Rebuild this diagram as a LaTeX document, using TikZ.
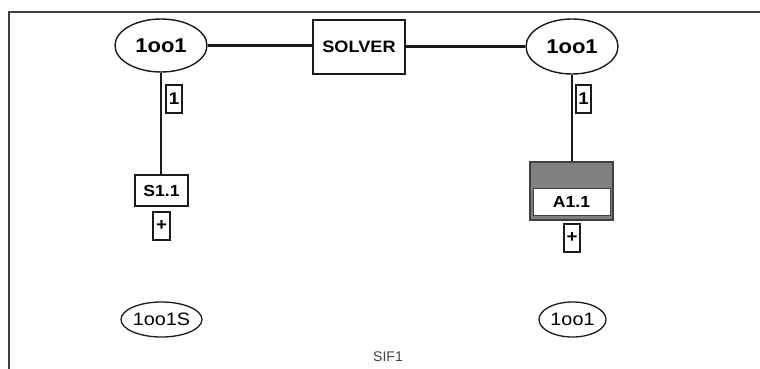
\documentclass[tikz,border=0pt]{standalone}
\usepackage{fontspec}
\setmainfont{Liberation Sans}
\newfontfamily\widesf[FakeStretch=1.1]{Liberation Sans}
\usetikzlibrary{shapes.geometric}
\definecolor{frm}{HTML}{404040}
\definecolor{blk}{HTML}{1A1A1A}
\definecolor{midgray}{HTML}{808080}
\tikzset{
  conn/.style={draw=blk, line width=2.2pt},
  bigell/.style={ellipse, draw=blk, line width=1.4pt, inner sep=0pt, fill=white,
     font=\widesf\fontsize{20}{23}\selectfont\bfseries},
  smallell/.style={ellipse, draw=blk, line width=1.3pt, inner sep=0pt, fill=white,
     font=\widesf\fontsize{18}{21}\selectfont},
  solverbox/.style={rectangle, draw=blk, line width=2.2pt, inner sep=0pt, fill=white,
     font=\widesf\fontsize{16.5}{19}\selectfont\bfseries},
  elembox/.style={rectangle, draw=blk, line width=1.3pt, inner sep=0pt, fill=white,
     font=\widesf\fontsize{16}{19}\selectfont\bfseries},
  tagbox/.style={rectangle, draw=blk, line width=1.1pt, inner sep=0pt, fill=white,
     font=\widesf\fontsize{17}{19}\selectfont\bfseries},
}
\begin{document}
\begin{tikzpicture}[x=1pt, y=-1pt]
\useasboundingbox (0,0) rectangle (760,369);
% frame
\draw[frm, line width=1.5pt] (9,369) -- (9,12) -- (760,12);
% top row
\node[bigell, minimum width=92pt, minimum height=53pt] (e1) at (161,45.5) {1oo1};
\node[solverbox, minimum width=92pt, minimum height=54pt] (solver) at (359,47) {SOLVER};
\node[bigell, minimum width=92pt, minimum height=55pt] (e2) at (572,46.5) {1oo1};
% left element
\node[elembox, minimum width=53pt, minimum height=31pt] (s11) at (161.5,190.5) {S1.1};
\node[tagbox, minimum width=16pt, minimum height=28pt] (lab1) at (174,99) {1};
\node[tagbox, minimum width=17pt, minimum height=28pt] (plus1) at (161.5,226) {+};
% right element
\node[rectangle, draw=frm, line width=2pt, fill=midgray, minimum width=83pt, minimum height=58pt, inner sep=0pt] (a11box) at (571.5,191) {};
\node[elembox, draw=frm, line width=1pt, minimum width=77pt, minimum height=27pt] (a11) at (571.5,201.5) {A1.1};
\node[tagbox, minimum width=15pt, minimum height=28pt] (lab2) at (583.5,99) {1};
\node[tagbox, minimum width=16pt, minimum height=28pt] (plus2) at (572,238) {+};
% bottom ellipses
\node[smallell, minimum width=67pt, minimum height=35pt] (e3) at (161.5,319.5) {1oo1S};
\node[smallell, minimum width=67pt, minimum height=35pt] (e4) at (572.5,319.5) {1oo1};
% caption
\node[font=\fontsize{14}{16}\selectfont, text=frm, inner sep=0pt] (sif) at (388,357) {SIF1};
% connectors
\draw[conn] (e1.east) -- (solver.west |- e1.east);
\draw[conn] (solver.east |- e2.west) -- (e2.west);
\draw[conn] (e1.south) -- (e1.south |- s11.north);
\draw[conn] (e2.south) -- (e2.south |- a11box.north);
\end{tikzpicture}
\end{document}
